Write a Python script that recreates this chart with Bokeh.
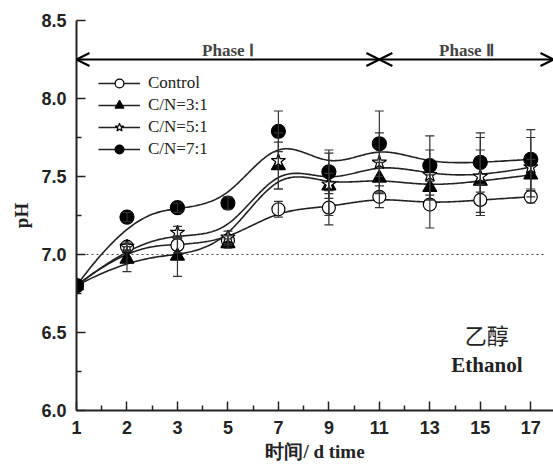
import numpy as np
from bokeh.plotting import figure
from bokeh.models import (ColumnDataSource, FixedTicker, Whisker, TeeHead, Arrow, OpenHead,
                          Legend, LegendItem, Label, Range1d, CustomJSTickFormatter)
from bokeh.embed import file_html
from bokeh.resources import INLINE

# ---------------- data ----------------
days = ["1", "2", "3", "5", "7", "9", "11", "13", "15", "17"]
control = [6.80, 7.05, 7.06, 7.09, 7.29, 7.30, 7.37, 7.32, 7.35, 7.37]
cn31 = [6.80, 6.97, 6.99, 7.07, 7.57, 7.44, 7.49, 7.43, 7.47, 7.51]
cn51 = [6.80, 7.05, 7.14, 7.11, 7.60, 7.45, 7.59, 7.51, 7.50, 7.56]
cn71 = [6.80, 7.24, 7.30, 7.33, 7.79, 7.53, 7.71, 7.57, 7.59, 7.61]
err_control = [0, 0.02, 0.05, 0.03, 0.05, 0.11, 0.07, 0.15, 0.10, 0.04]
err_31 = [0, 0.08, 0.13, 0.03, 0.15, 0.08, 0.10, 0.08, 0.20, 0.10]
err_51 = [0, 0.03, 0.04, 0.04, 0.18, 0.20, 0.19, 0.16, 0.25, 0.19]
err_71 = [0, 0.03, 0.03, 0.04, 0.13, 0.14, 0.21, 0.19, 0.19, 0.19]
series_names = ["Control", "C/N=3:1", "C/N=5:1", "C/N=7:1"]
phase_names = ["Phase \u2160", "Phase \u2161"]
phase_start_idx = [0, 6]          # day 1 and day 11
phase_end_idx = [6, 9.45]         # day 11 and right edge
ref_ph = 7.0

X_END = 9.45


def bspline(xs, ys, n=300):
    """Clamped uniform cubic B-spline using the data points as control points
    (the 'B-Spline' line connection of the original plotting software)."""
    P = np.column_stack([xs, ys]).astype(float)
    m = len(P)
    k = 3
    inner = np.arange(1, m - k)
    knots = np.concatenate([[0] * (k + 1), inner, [m - k] * (k + 1)]).astype(float)
    ts = np.linspace(0, m - k, n)
    out = []
    for t in ts:
        N = np.zeros(len(knots) - 1)
        for i in range(len(knots) - 1):
            if knots[i] <= t < knots[i + 1]:
                N[i] = 1.0
        if t >= knots[-1]:
            N[m - 1] = 1.0
        for d in range(1, k + 1):
            Nn = np.zeros(len(knots) - 1 - d)
            for i in range(len(Nn)):
                a = 0.0
                if knots[i + d] != knots[i]:
                    a = (t - knots[i]) / (knots[i + d] - knots[i]) * N[i]
                b = 0.0
                if knots[i + d + 1] != knots[i + 1]:
                    b = (knots[i + d + 1] - t) / (knots[i + d + 1] - knots[i + 1]) * N[i + 1]
                Nn[i] = a + b
            N = Nn
        out.append(N[:m] @ P)
    out = np.array(out)
    return out[:, 0], out[:, 1]


x_idx = list(range(len(days)))

p = figure(width=553, height=466, output_backend="svg", toolbar_location=None,
           x_range=Range1d(0, X_END), y_range=Range1d(6.0, 8.5),
           min_border_left=76, min_border_right=0, min_border_top=20, min_border_bottom=56)
p.outline_line_color = None
p.xgrid.visible = False
p.ygrid.visible = False
p.background_fill_color = "white"
p.border_fill_color = "white"

# reference dotted line at pH 7
p.segment(x0=[0], y0=[ref_ph], x1=[9.3], y1=[ref_ph], line_color="#444444",
          line_width=1.2, line_dash="2 3")

all_vals = [control, cn31, cn51, cn71]
all_err = [err_control, err_31, err_51, err_71]
markers = ["circle", "triangle", "star", "circle"]
fills = ["white", "black", "white", "black"]
sizes = [13, 14, 15, 14]

line_rs, mark_rs = [], []
for vals in all_vals:
    cx, cy = bspline(x_idx, vals)
    line_rs.append(p.line(cx, cy, line_color="#222222", line_width=1.6))

for vals, err in zip(all_vals, all_err):
    up = [v + e for v, e in zip(vals, err)]
    lo = [v - e for v, e in zip(vals, err)]
    src = ColumnDataSource(dict(x=x_idx[1:], upper=up[1:], lower=lo[1:]))
    w = Whisker(source=src, base="x", upper="upper", lower="lower", line_color="#333333",
                line_width=1.2, level="glyph",
                upper_head=TeeHead(size=9, line_color="#333333", line_width=1.2),
                lower_head=TeeHead(size=9, line_color="#333333", line_width=1.2))
    p.add_layout(w)

for vals, mk, fc, sz in zip(all_vals, markers, fills, sizes):
    mark_rs.append(p.scatter(x_idx, vals, marker=mk, size=sz, fill_color=fc,
                             line_color="black", line_width=1.2))

# legend
items = [LegendItem(label=n, renderers=[l, m]) for n, l, m in zip(series_names, line_rs, mark_rs)]
legend = Legend(items=items, location=(22, 250), padding=0, margin=0,
                border_line_color=None, background_fill_alpha=0,
                glyph_width=42, glyph_height=22, spacing=0, label_standoff=8,
                label_text_font="Liberation Serif", label_text_font_style="normal",
                label_text_font_size="17px", label_text_color="#222222")
p.add_layout(legend)

# phase arrows and labels
for name, s, e in zip(phase_names, phase_start_idx, phase_end_idx):
    p.add_layout(Arrow(x_start=s, y_start=8.25, x_end=e, y_end=8.25, line_width=2.2,
                       line_color="black",
                       start=OpenHead(size=13, line_width=2.2, line_color="black"),
                       end=OpenHead(size=13, line_width=2.2, line_color="black")))
    p.add_layout(Label(x=(s + e) / 2, y=8.31, text=name, text_align="center",
                       text_baseline="middle", text_font="Liberation Serif",
                       text_font_style="bold", text_font_size="17px"))

p.add_layout(Label(x=8.13, y=6.49, text="乙醇", text_align="center", text_baseline="middle",
                   text_font="Noto Sans CJK SC", text_font_size="22px", text_color="#222222"))
p.add_layout(Label(x=8.13, y=6.29, text="Ethanol", text_align="center", text_baseline="middle",
                   text_font="Liberation Serif", text_font_style="bold", text_font_size="21px",
                   text_color="#222222"))

# axes
p.xaxis.ticker = FixedTicker(ticks=x_idx, minor_ticks=[i + 0.5 for i in x_idx])
p.xaxis.major_label_overrides = {i: d for i, d in enumerate(days)}
p.yaxis.ticker = FixedTicker(ticks=[6.0, 6.5, 7.0, 7.5, 8.0, 8.5],
                             minor_ticks=[6.25, 6.75, 7.25, 7.75, 8.25])
p.yaxis.formatter = CustomJSTickFormatter(code="return tick.toFixed(1);")
for ax in (p.xaxis[0], p.yaxis[0]):
    ax.axis_line_width = 2
    ax.axis_line_color = "#222222"
    ax.major_tick_line_color = "#222222"
    ax.minor_tick_line_color = "#222222"
    ax.major_tick_line_width = 1.5
    ax.minor_tick_line_width = 1.5
    ax.major_tick_in = 9
    ax.major_tick_out = 0
    ax.minor_tick_in = 5
    ax.minor_tick_out = 0
    ax.major_label_text_font = "Liberation Sans"
    ax.major_label_text_font_style = "bold"
    ax.major_label_text_font_size = "18px"
    ax.major_label_text_color = "#222222"
    ax.axis_label_text_font = "Liberation Serif"
    ax.axis_label_text_font_style = "bold"
    ax.axis_label_text_font_size = "19px"
    ax.axis_label_text_color = "#222222"
p.xaxis.major_label_standoff = 10
p.yaxis.major_label_standoff = 10
p.xaxis.axis_label = "时间/ d time"
p.yaxis.axis_label = "pH"
p.xaxis.axis_label_standoff = 4
p.yaxis.axis_label_standoff = 6

open("out.html", "w").write(file_html(p, INLINE))
